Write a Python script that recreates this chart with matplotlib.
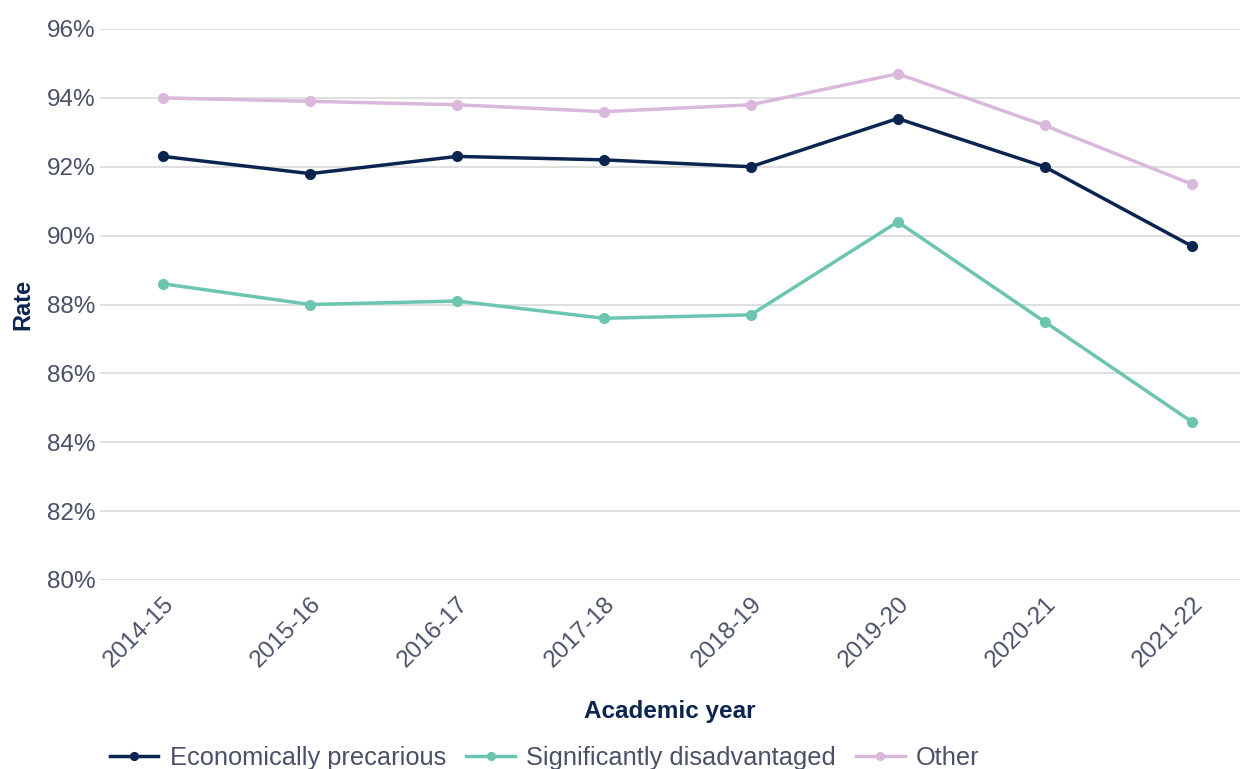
import matplotlib.pyplot as plt
from matplotlib.ticker import FuncFormatter

plt.rcParams['font.family'] = ['Liberation Sans', 'DejaVu Sans']

years = ["2014-15", "2015-16", "2016-17", "2017-18", "2018-19", "2019-20", "2020-21", "2021-22"]
econ_precarious = [92.3, 91.8, 92.3, 92.2, 92.0, 93.4, 92.0, 89.7]
sig_disadvantaged = [88.6, 88.0, 88.1, 87.6, 87.7, 90.4, 87.5, 84.6]
other = [94.0, 93.9, 93.8, 93.6, 93.8, 94.7, 93.2, 91.5]

navy = "#0b2550"
teal = "#6cc5b0"
lilac = "#d9b8dc"
tick_col = "#4a5068"

fig = plt.figure(figsize=(12.41, 7.69), dpi=100)
ax = fig.add_axes([100 / 1241, 1 - 580 / 769, 1140 / 1241, 551 / 769])

x = range(len(years))
ax.plot(x, econ_precarious, color=navy, lw=2.5, marker="o", ms=7, label="Economically precarious", zorder=4)
ax.plot(x, sig_disadvantaged, color=teal, lw=2.5, marker="o", ms=7, label="Significantly disadvantaged", zorder=3)
ax.plot(x, other, color=lilac, lw=2.5, marker="o", ms=7, label="Other", zorder=2)

ax.set_ylim(80, 96)
ax.set_yticks(range(80, 97, 2))
ax.yaxis.set_major_formatter(FuncFormatter(lambda v, p: f"{v:.0f}%"))
ax.set_xlim(-0.43, 7.33)
ax.set_xticks(list(x))
ax.set_xticklabels(years, rotation=45, ha="right", rotation_mode="anchor")

ax.grid(axis="y", color="#dcdcdc", lw=1.3)
ax.set_axisbelow(True)
for s in ax.spines.values():
    s.set_visible(False)
ax.tick_params(axis="both", length=0, labelsize=17.5, colors=tick_col)
ax.tick_params(axis="x", pad=9)
ax.tick_params(axis="y", pad=3)

ax.set_ylabel("Rate", fontsize=17, fontweight="bold", color=navy, labelpad=9)
ax.set_xlabel("Academic year", fontsize=17.5, fontweight="bold", color=navy, labelpad=20.5)

ax.legend(loc="upper left", bbox_to_anchor=(0.0, -0.283), ncol=3, frameon=False,
          fontsize=18.3, labelcolor=tick_col, handlelength=1.9, columnspacing=0.8,
          handletextpad=0.45, markerscale=0.8, borderaxespad=0)

fig.savefig("out.png", dpi=100)
